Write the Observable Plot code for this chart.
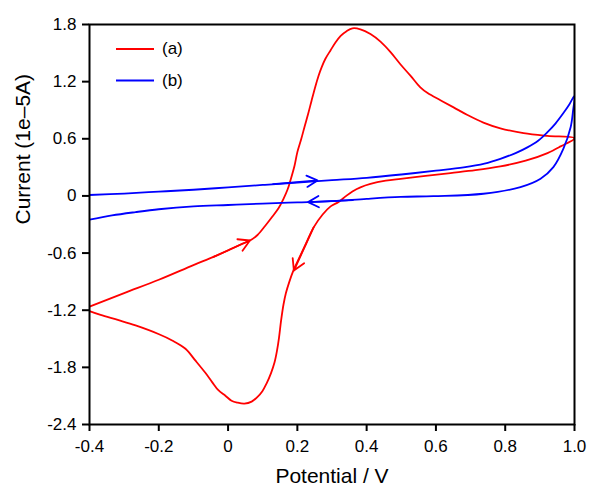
<!DOCTYPE html>
<html><head><meta charset="utf-8">
<script src="https://cdn.jsdelivr.net/npm/d3@7"></script>
<script src="https://cdn.jsdelivr.net/npm/@observablehq/plot@0.6"></script>
<style>
body{margin:0;background:#fff;}
#chart{width:600px;height:498px;}
</style></head><body><div id="chart"></div>
<script>
// Curve (a): potential (V) and current (1e-5 A), in scan order
const redV = [-0.4,-0.3,-0.2,-0.1,-0.042,0.001,0.036,0.062,0.085,0.108,0.128,0.146,0.16,0.172,0.18,0.192,0.2,0.211,0.221,0.231,0.241,0.252,0.261,0.27,0.281,0.296,0.31,0.325,0.342,0.359,0.382,0.411,0.44,0.469,0.498,0.527,0.555,0.576,0.613,0.651,0.691,0.737,0.786,0.853,0.922,1.0,
  0.96,0.922,0.859,0.786,0.714,0.642,0.57,0.498,0.455,0.411,0.382,0.359,0.339,0.319,0.296,0.273,0.247,0.221,0.203,0.189,0.177,0.167,0.16,0.153,0.147,0.141,0.134,0.124,0.111,0.099,0.085,0.068,0.047,0.027,0.01,-0.007,-0.028,-0.045,-0.065,-0.094,-0.123,-0.16,-0.201,-0.267,-0.316,-0.368,-0.4];
const redI = [-1.163,-1.02,-0.88,-0.726,-0.64,-0.57,-0.51,-0.47,-0.41,-0.31,-0.216,-0.126,-0.03,0.07,0.163,0.32,0.46,0.595,0.73,0.86,1.0,1.15,1.26,1.35,1.44,1.53,1.61,1.68,1.73,1.76,1.75,1.7,1.62,1.51,1.38,1.26,1.14,1.08,1.005,0.93,0.85,0.77,0.71,0.66,0.63,0.605,
  0.52,0.45,0.37,0.31,0.27,0.24,0.21,0.18,0.16,0.126,0.09,0.047,-0.005,-0.063,-0.11,-0.195,-0.33,-0.53,-0.67,-0.78,-0.9,-1.02,-1.14,-1.31,-1.49,-1.63,-1.75,-1.86,-1.97,-2.05,-2.11,-2.16,-2.18,-2.17,-2.15,-2.1,-2.04,-1.96,-1.86,-1.73,-1.605,-1.52,-1.45,-1.36,-1.305,-1.25,-1.21];
// Curve (b)
const blueV = [-0.4,-0.3,-0.2,-0.1,0.0,0.1,0.2,0.3,0.4,0.5,0.6,0.68,0.74,0.786,0.83,0.864,0.895,0.922,0.945,0.968,0.985,1.0,
  0.996,0.989,0.968,0.939,0.902,0.844,0.737,0.593,0.498,0.4,0.3,0.2,0.1,0.0,-0.1,-0.2,-0.267,-0.335,-0.4];
const blueI = [0.01,0.025,0.045,0.065,0.09,0.115,0.14,0.165,0.19,0.225,0.265,0.3,0.34,0.39,0.45,0.51,0.58,0.67,0.76,0.87,0.96,1.05,
  0.9,0.724,0.497,0.303,0.181,0.093,0.023,-0.002,-0.01,-0.03,-0.055,-0.068,-0.08,-0.095,-0.11,-0.14,-0.17,-0.205,-0.25];
// Scan-direction arrows along each curve (start -> tip)
const redArrowV1 = [-0.042, 0.247], redArrowI1 = [-0.64, -0.33], redArrowV2 = [0.063, 0.19], redArrowI2 = [-0.468, -0.784];
const blueArrowV1 = [0.13, 0.36], blueArrowI1 = [0.123, -0.045], blueArrowV2 = [0.258, 0.163], blueArrowI2 = [0.163, -0.065];

const xTicks = [-0.4,-0.2,0,0.2,0.4,0.6,0.8,1.0];
const xTickLabels = ["-0.4","-0.2","0","0.2","0.4","0.6","0.8","1.0"];
const yTicks = [1.8,1.2,0.6,0,-0.6,-1.2,-1.8,-2.4];
const yTickLabels = ["1.8","1.2","0.6","0","-0.6","-1.2","-1.8","-2.4"];
const seriesNames = ["(a)","(b)"];
const seriesColors = ["#ff0000","#0000ff"];
const xTitle = "Potential / V";
const yTitle = "Current (1e\u20135A)";

const red = redV.map((v,i)=>({V:v, I:redI[i]}));
const blue = blueV.map((v,i)=>({V:v, I:blueI[i]}));
const redArrows = redArrowV1.map((v,i)=>({x1:v,y1:redArrowI1[i],x2:redArrowV2[i],y2:redArrowI2[i]}));
const blueArrows = blueArrowV1.map((v,i)=>({x1:v,y1:blueArrowI1[i],x2:[0.258,0.231][i],y2:blueArrowI2[i]}));

function legend() {
  const g = d3.create("svg:g");
  seriesNames.forEach((name,i)=>{
    const y = 49 + i*31.5;
    g.append("line").attr("x1",116).attr("x2",154).attr("y1",y).attr("y2",y)
      .attr("stroke",seriesColors[i]).attr("stroke-width",1.8);
    g.append("text").attr("x",162).attr("y",y).attr("dy","0.3em")
      .attr("text-anchor","start").attr("font-size",17).attr("fill","black").text(name);
  });
  return g.node();
}

const sw = 1.8;
const chart = Plot.plot({
  width: 600, height: 498,
  marginLeft: 89, marginRight: 26, marginTop: 24, marginBottom: 74,
  style: {fontFamily: "'Liberation Sans', Arial, sans-serif", fontSize: "17px", background: "white", color: "black"},
  x: {domain: [-0.4, 1.0]},
  y: {domain: [-2.4, 1.8]},
  marks: [
    Plot.line(red, {x:"V", y:"I", stroke: seriesColors[0], strokeWidth: sw, curve: "catmull-rom", clip: true}),
    Plot.line(blue, {x:"V", y:"I", stroke: seriesColors[1], strokeWidth: sw, curve: "catmull-rom", clip: true}),
    Plot.arrow(redArrows, {x1:"x1", y1:"y1", x2:"x2", y2:"y2", stroke: seriesColors[0], strokeWidth: sw, headLength: 10.5, headAngle: 60}),
    Plot.arrow(blueArrows, {x1:"x1", y1:"y1", x2:"x2", y2:"y2", stroke: seriesColors[1], strokeWidth: sw, headLength: 10, headAngle: 56}),
    Plot.frame({stroke: "black", strokeWidth: 2}),
    Plot.axisX({ticks: xTicks, tickFormat: d => xTickLabels[xTicks.indexOf(d)], tickSize: 7, tickPadding: 8, strokeWidth: 2, label: null, fontSize: 17}),
    Plot.axisY({ticks: yTicks, tickFormat: d => yTickLabels[yTicks.indexOf(d)], tickSize: 7, tickPadding: 6, strokeWidth: 2, label: null, fontSize: 17}),
    Plot.text([xTitle], {text: d => d, frameAnchor: "bottom", dy: 58, lineAnchor: "bottom", fontSize: 21}),
    Plot.text([yTitle], {text: d => d, frameAnchor: "left", dx: -60, rotate: -90, lineAnchor: "bottom", fontSize: 21}),
    legend
  ]
});
document.getElementById("chart").appendChild(chart);
</script></body></html>
